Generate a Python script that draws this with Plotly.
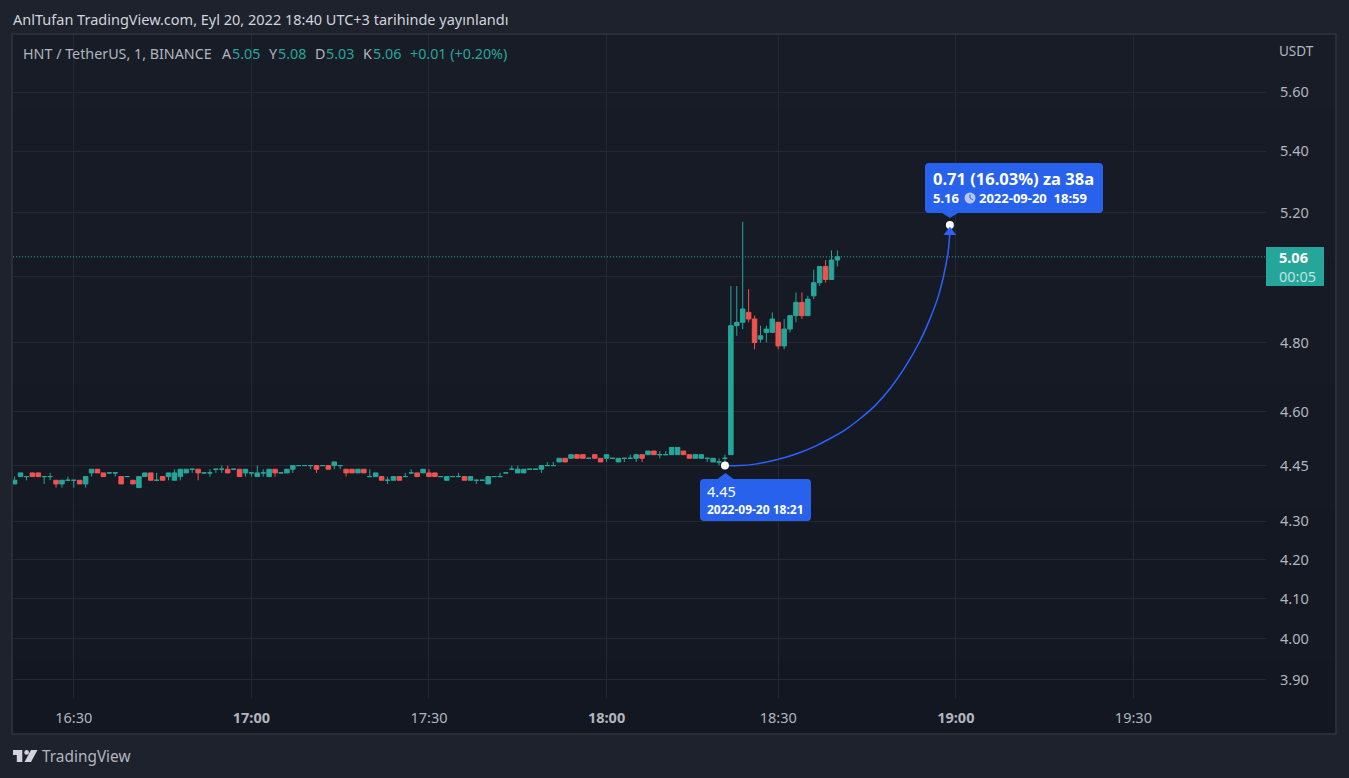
import math
import plotly.graph_objects as go

# One-minute bars (prices move in cents)
opens = [4.40, 4.42, 4.42, 4.43, 4.43, 4.42, 4.42, 4.41, 4.40, 4.41,
         4.41, 4.41, 4.40, 4.43, 4.44, 4.43, 4.43, 4.43, 4.42, 4.42,
         4.41, 4.39, 4.42, 4.43, 4.41, 4.42, 4.42, 4.41, 4.42, 4.43,
         4.44, 4.44, 4.43, 4.43, 4.44, 4.44, 4.44, 4.44, 4.44, 4.43,
         4.43, 4.42, 4.43, 4.42, 4.44, 4.43, 4.43, 4.44, 4.45, 4.45,
         4.45, 4.45, 4.45, 4.45, 4.45, 4.45, 4.44, 4.44, 4.43, 4.44,
         4.42, 4.42, 4.42, 4.41, 4.41, 4.42, 4.42, 4.43, 4.43, 4.43,
         4.43, 4.43, 4.42, 4.41, 4.42, 4.42, 4.42, 4.41, 4.41, 4.41,
         4.40, 4.42, 4.42, 4.43, 4.44, 4.43, 4.43, 4.44, 4.44, 4.44,
         4.45, 4.45, 4.46, 4.47, 4.47, 4.48, 4.48, 4.47, 4.48, 4.47,
         4.47, 4.47, 4.46, 4.47, 4.47, 4.47, 4.48, 4.48, 4.49, 4.48,
         4.48, 4.48, 4.48, 4.49, 4.48, 4.47, 4.47, 4.47, 4.46, 4.46,
         4.47, 4.48, 4.85, 4.86, 4.89, 4.87, 4.81, 4.83, 4.83, 4.86,
         4.79, 4.84, 4.88, 4.92, 4.88, 4.94, 4.98, 5.03, 4.99, 5.05]
highs = [4.42, 4.43, 4.42, 4.43, 4.43, 4.42, 4.43, 4.41, 4.41, 4.42,
         4.41, 4.41, 4.42, 4.44, 4.44, 4.43, 4.43, 4.43, 4.42, 4.42,
         4.41, 4.42, 4.43, 4.43, 4.43, 4.42, 4.43, 4.44, 4.44, 4.44,
         4.44, 4.44, 4.43, 4.44, 4.44, 4.45, 4.45, 4.44, 4.44, 4.44,
         4.43, 4.45, 4.44, 4.44, 4.44, 4.43, 4.44, 4.45, 4.45, 4.45,
         4.45, 4.45, 4.45, 4.45, 4.46, 4.45, 4.44, 4.44, 4.44, 4.44,
         4.44, 4.43, 4.42, 4.42, 4.42, 4.42, 4.43, 4.44, 4.43, 4.44,
         4.44, 4.43, 4.42, 4.42, 4.42, 4.43, 4.42, 4.42, 4.41, 4.41,
         4.42, 4.42, 4.43, 4.43, 4.45, 4.45, 4.44, 4.44, 4.44, 4.45,
         4.46, 4.46, 4.47, 4.47, 4.48, 4.48, 4.48, 4.47, 4.48, 4.47,
         4.48, 4.47, 4.47, 4.47, 4.48, 4.48, 4.48, 4.49, 4.49, 4.49,
         4.49, 4.50, 4.50, 4.49, 4.48, 4.48, 4.48, 4.47, 4.47, 4.47,
         4.48, 4.97, 4.97, 5.17, 4.96, 4.88, 4.85, 4.85, 4.89, 4.86,
         4.87, 4.88, 4.95, 4.95, 4.94, 5.02, 5.03, 5.05, 5.08, 5.08]
lows = [4.40, 4.42, 4.41, 4.42, 4.42, 4.40, 4.41, 4.39, 4.39, 4.41,
        4.39, 4.40, 4.39, 4.42, 4.43, 4.42, 4.43, 4.42, 4.40, 4.42,
        4.40, 4.39, 4.42, 4.41, 4.41, 4.41, 4.41, 4.41, 4.41, 4.43,
        4.43, 4.41, 4.43, 4.42, 4.43, 4.43, 4.43, 4.44, 4.42, 4.42,
        4.42, 4.42, 4.42, 4.42, 4.42, 4.43, 4.43, 4.43, 4.45, 4.45,
        4.44, 4.43, 4.45, 4.44, 4.44, 4.44, 4.42, 4.43, 4.43, 4.43,
        4.42, 4.42, 4.41, 4.40, 4.41, 4.41, 4.42, 4.43, 4.42, 4.43,
        4.42, 4.42, 4.42, 4.41, 4.42, 4.42, 4.41, 4.41, 4.40, 4.41,
        4.40, 4.42, 4.42, 4.43, 4.44, 4.43, 4.43, 4.44, 4.44, 4.43,
        4.45, 4.45, 4.46, 4.46, 4.47, 4.47, 4.47, 4.47, 4.47, 4.46,
        4.46, 4.47, 4.46, 4.46, 4.47, 4.46, 4.46, 4.48, 4.48, 4.47,
        4.48, 4.48, 4.48, 4.48, 4.47, 4.47, 4.47, 4.46, 4.46, 4.45,
        4.46, 4.48, 4.82, 4.84, 4.86, 4.78, 4.80, 4.80, 4.83, 4.78,
        4.78, 4.83, 4.86, 4.87, 4.88, 4.93, 4.97, 4.98, 4.99, 5.03]
closes = [4.41, 4.43, 4.42, 4.42, 4.42, 4.42, 4.42, 4.40, 4.41, 4.41,
          4.41, 4.40, 4.42, 4.44, 4.43, 4.42, 4.43, 4.43, 4.40, 4.42,
          4.40, 4.42, 4.43, 4.41, 4.41, 4.41, 4.43, 4.43, 4.44, 4.44,
          4.44, 4.43, 4.43, 4.43, 4.44, 4.44, 4.43, 4.44, 4.42, 4.44,
          4.43, 4.43, 4.43, 4.44, 4.43, 4.43, 4.44, 4.45, 4.45, 4.45,
          4.45, 4.44, 4.45, 4.44, 4.46, 4.45, 4.43, 4.43, 4.44, 4.43,
          4.42, 4.43, 4.41, 4.41, 4.42, 4.41, 4.42, 4.43, 4.42, 4.44,
          4.42, 4.42, 4.42, 4.42, 4.42, 4.42, 4.41, 4.42, 4.41, 4.41,
          4.42, 4.42, 4.42, 4.43, 4.44, 4.44, 4.44, 4.44, 4.44, 4.45,
          4.45, 4.45, 4.47, 4.46, 4.48, 4.47, 4.47, 4.47, 4.47, 4.46,
          4.48, 4.47, 4.47, 4.47, 4.47, 4.48, 4.47, 4.49, 4.48, 4.48,
          4.48, 4.50, 4.50, 4.48, 4.47, 4.48, 4.48, 4.47, 4.47, 4.46,
          4.47, 4.85, 4.86, 4.90, 4.87, 4.80, 4.82, 4.84, 4.87, 4.79,
          4.84, 4.88, 4.92, 4.88, 4.93, 4.98, 5.03, 4.99, 5.05, 5.06]

# Axis labels
price_ticks = [3.90, 4.00, 4.10, 4.20, 4.30, 4.45, 4.60, 4.80, 5.00, 5.20, 5.40, 5.60]
price_labels = ["3.90", "4.00", "4.10", "4.20", "4.30", "4.45", "4.60", "4.80", "", "5.20", "5.40", "5.60"]
time_ticks = [10, 40, 70, 100, 129, 159, 189]
time_labels = ["16:30", "<b>17:00</b>", "17:30", "<b>18:00</b>", "18:30", "<b>19:00</b>", "19:30"]

# Date range drawing: bar number and price along the arc
arc_bars = [120.0, 122.5, 125.1, 127.6, 130.1, 132.7, 135.2, 137.7, 140.3, 142.8,
            145.4, 147.9, 150.4, 152.9, 154.6, 156.0, 157.0, 157.7, 158.0]
arc_prices = [4.450, 4.450, 4.454, 4.462, 4.472, 4.486, 4.503, 4.524, 4.549, 4.580,
              4.618, 4.666, 4.727, 4.803, 4.869, 4.936, 5.006, 5.075, 5.137]
start_bar, start_price = 120, 4.45
end_bar, end_price = 158, 5.16
arrow_price = 5.137

UP = "#26a69a"
DOWN = "#ef5350"
BLUE = "#2962ff"
CALLOUT = "#2862ec"
GRID = "#242833"
TEXT = "#b2b5be"
FONT = "Noto Sans"

# Pixel box of the plot area
LEFT, RIGHT, TOP, BOTTOM = 13, 1266, 35, 698


def fx(px):
    return (px - LEFT) / (RIGHT - LEFT)


def fy(py):
    return (BOTTOM - py) / (BOTTOM - TOP)


def label(text, x, y, size=14.3, color=TEXT, anchor="left"):
    return dict(text=text, x=fx(x), y=fy(y), xref="paper", yref="paper", showarrow=False,
                xanchor=anchor, yanchor="middle", align=anchor, borderpad=0, borderwidth=0,
                font=dict(family=FONT, size=size, color=color))


def rounded_box(x0, y0, x1, y1, r, tip_x, tip_y):
    # Blue callout with a small pointer on its top or bottom edge
    edge = y0 if tip_y < y0 else y1
    pts = [f"M{fx(x0 + r)},{fy(y0)}"]
    if tip_y < y0:
        pts += [f"L{fx(tip_x - 8)},{fy(edge)}", f"L{fx(tip_x)},{fy(tip_y)}", f"L{fx(tip_x + 8)},{fy(edge)}"]
    pts += [f"L{fx(x1 - r)},{fy(y0)}", f"Q{fx(x1)},{fy(y0)} {fx(x1)},{fy(y0 + r)}",
            f"L{fx(x1)},{fy(y1 - r)}", f"Q{fx(x1)},{fy(y1)} {fx(x1 - r)},{fy(y1)}"]
    if tip_y > y1:
        pts += [f"L{fx(tip_x + 8)},{fy(edge)}", f"L{fx(tip_x)},{fy(tip_y)}", f"L{fx(tip_x - 8)},{fy(edge)}"]
    pts += [f"L{fx(x0 + r)},{fy(y1)}", f"Q{fx(x0)},{fy(y1)} {fx(x0)},{fy(y1 - r)}",
            f"L{fx(x0)},{fy(y0 + r)}", f"Q{fx(x0)},{fy(y0)} {fx(x0 + r)},{fy(y0)}", "Z"]
    return dict(type="path", path=" ".join(pts), xref="paper", yref="paper",
                fillcolor=CALLOUT, line=dict(width=0), layer="above")


def paper_rect(x0, y0, x1, y1, color, layer="below", line=None):
    return dict(type="rect", xref="paper", yref="paper", x0=fx(x0), x1=fx(x1), y0=fy(y0), y1=fy(y1),
                fillcolor=color, line=line or dict(width=0), layer=layer)


bars = list(range(len(opens)))
rising = [i for i in bars if closes[i] >= opens[i]]
falling = [i for i in bars if closes[i] < opens[i]]

fig = go.Figure()

# Two traces so flat bars stay green whatever the previous close was
for idx, color in [(rising, UP), (falling, DOWN)]:
    fig.add_trace(go.Candlestick(
        x=idx,
        open=[opens[i] for i in idx],
        high=[highs[i] for i in idx],
        low=[lows[i] for i in idx],
        close=[closes[i] for i in idx],
        increasing=dict(line=dict(color=color, width=1), fillcolor=color),
        decreasing=dict(line=dict(color=color, width=1), fillcolor=color),
        whiskerwidth=0,
        hoverinfo="skip",
    ))

# Last price line
x_range = [-0.27, 211.4]
fig.add_trace(go.Scatter(x=x_range, y=[closes[-1], closes[-1]], mode="lines",
                         line=dict(color=UP, width=1, dash="1px,2px"), hoverinfo="skip"))

# Arc, arrow head and end points of the date range
fig.add_trace(go.Scatter(x=arc_bars, y=arc_prices, mode="lines",
                         line=dict(color=BLUE, width=1.5, shape="spline", smoothing=0.6), hoverinfo="skip"))
fig.add_trace(go.Scatter(x=[start_bar, end_bar], y=[start_price, end_price], mode="markers",
                         marker=dict(color="white", size=8, line=dict(width=0)), hoverinfo="skip"))
fig.add_trace(go.Scatter(x=[end_bar], y=[arrow_price], mode="markers",
                         marker=dict(color=BLUE, size=11, symbol="triangle-up", line=dict(width=0)),
                         hoverinfo="skip"))

# Panel background: a vertical gradient made of thin bands
shapes = []
panel_top, panel_bottom = 34, 734
n_bands = 28
for b in range(n_bands):
    t = b / (n_bands - 1)
    r = round(0x18 + (0x13 - 0x18) * t)
    g = round(0x1c + (0x17 - 0x1c) * t)
    bl = round(0x27 + (0x22 - 0x27) * t)
    y0 = panel_top + (panel_bottom - panel_top) * b / n_bands
    y1 = panel_top + (panel_bottom - panel_top) * (b + 1) / n_bands
    shapes.append(paper_rect(12, y0, 1336, y1, f"rgb({r},{g},{bl})"))
shapes.append(dict(type="rect", xref="paper", yref="paper", x0=fx(12), x1=fx(1336), y0=fy(734), y1=fy(34),
                   line=dict(color="#2a2e39", width=2), fillcolor="rgba(0,0,0,0)", layer="below"))

# Callouts and last price box
shapes.append(rounded_box(925, 163, 1103, 213, 4, 950, 218))
shapes.append(rounded_box(700, 479, 811, 521, 4, 725.5, 473))
shapes.append(paper_rect(1266, 247, 1324, 286, UP, layer="above"))

# Clock icon in the upper callout
shapes.append(dict(type="circle", xref="paper", yref="paper", x0=fx(964.5), x1=fx(975.5), y0=fy(203.5), y1=fy(192.5),
                   fillcolor="#b4c6fb", line=dict(width=0), layer="above"))
shapes.append(dict(type="path", xref="paper", yref="paper", layer="above", line=dict(color=CALLOUT, width=1),
                   path=f"M{fx(970)},{fy(194.5)} L{fx(970)},{fy(198)} L{fx(973)},{fy(200)}"))

# TradingView logo
logo_color = "#d1d4dc"
shapes.append(dict(type="path", xref="paper", yref="paper", layer="above", fillcolor=logo_color, line=dict(width=0),
                   path=f"M{fx(13)},{fy(750)} L{fx(22.3)},{fy(750)} L{fx(22.3)},{fy(762)} L{fx(16.8)},{fy(762)} "
                        f"L{fx(16.8)},{fy(755)} L{fx(13)},{fy(755)} Z"))
shapes.append(dict(type="circle", xref="paper", yref="paper", x0=fx(24.3), x1=fx(29), y0=fy(754.8), y1=fy(750),
                   fillcolor=logo_color, line=dict(width=0), layer="above"))
shapes.append(dict(type="path", xref="paper", yref="paper", layer="above", fillcolor=logo_color, line=dict(width=0),
                   path=f"M{fx(31)},{fy(750)} L{fx(37.5)},{fy(750)} L{fx(31)},{fy(762)} L{fx(24.5)},{fy(762)} Z"))

annotations = [
    label("AnlTufan TradingView.com, Eyl 20, 2022 18:40 UTC+3 tarihinde yayınlandı", 13, 19, size=14.5, color="#d1d4dc"),
    label("HNT / TetherUS, 1, BINANCE", 23, 53),
    label("USDT", 1279, 51, size=13.5),
    label("TradingView", 42, 757, size=15.4),
    label("<b>5.06</b>", 1279, 257, size=14.5, color="white"),
    label("00:05", 1279, 276, size=14.5, color="#bee5e1"),
    label("<b>0.71 (16.03%) za 38a</b>", 933, 178, size=16.5, color="white"),
    label("<b>5.16</b>", 933, 198, size=13, color="white"),
    label("<b>2022-09-20  18:59</b>", 979, 198, size=13, color="white"),
    label("4.45", 707, 491, size=14.5, color="white"),
    label("<b>2022-09-20 18:21</b>", 707, 509, size=12, color="white"),
]
# OHLC header pieces
for text, x, color in [("A", 222, TEXT), ("5.05", 232, UP), ("Y", 269, TEXT), ("5.08", 278, UP),
                       ("D", 315, TEXT), ("5.03", 326, UP), ("K", 363, TEXT), ("5.06", 373, UP),
                       ("+0.01 (+0.20%)", 410, UP)]:
    annotations.append(label(text, x, 53, color=color))

fig.update_layout(
    width=1349,
    height=778,
    autosize=False,
    margin=dict(l=LEFT, r=1349 - RIGHT, t=TOP, b=778 - BOTTOM, pad=0),
    paper_bgcolor="#1e222d",
    plot_bgcolor="rgba(0,0,0,0)",
    showlegend=False,
    boxmode="overlay",
    boxgap=0.24,
    boxgroupgap=0,
    font=dict(family=FONT, size=13, color=TEXT),
    shapes=shapes,
    annotations=annotations,
    xaxis=dict(
        range=x_range,
        rangeslider=dict(visible=False),
        tickmode="array",
        tickvals=time_ticks,
        ticktext=time_labels,
        showgrid=True,
        gridcolor=GRID,
        gridwidth=1,
        zeroline=False,
        showline=False,
        ticks="",
        ticklabelstandoff=9,
        tickfont=dict(family=FONT, size=14.5, color=TEXT),
    ),
    yaxis=dict(
        type="log",
        side="right",
        range=[math.log10(3.857), math.log10(5.80)],
        tickmode="array",
        tickvals=price_ticks,
        ticktext=price_labels,
        showgrid=True,
        gridcolor=GRID,
        gridwidth=1,
        zeroline=False,
        showline=False,
        ticks="",
        ticklabelstandoff=13,
        tickfont=dict(family=FONT, size=14.5, color=TEXT),
    ),
)

fig.write_html("out.html", config={"displayModeBar": False},
               post_script="document.body.style.margin='0';document.body.style.overflow='hidden';")
